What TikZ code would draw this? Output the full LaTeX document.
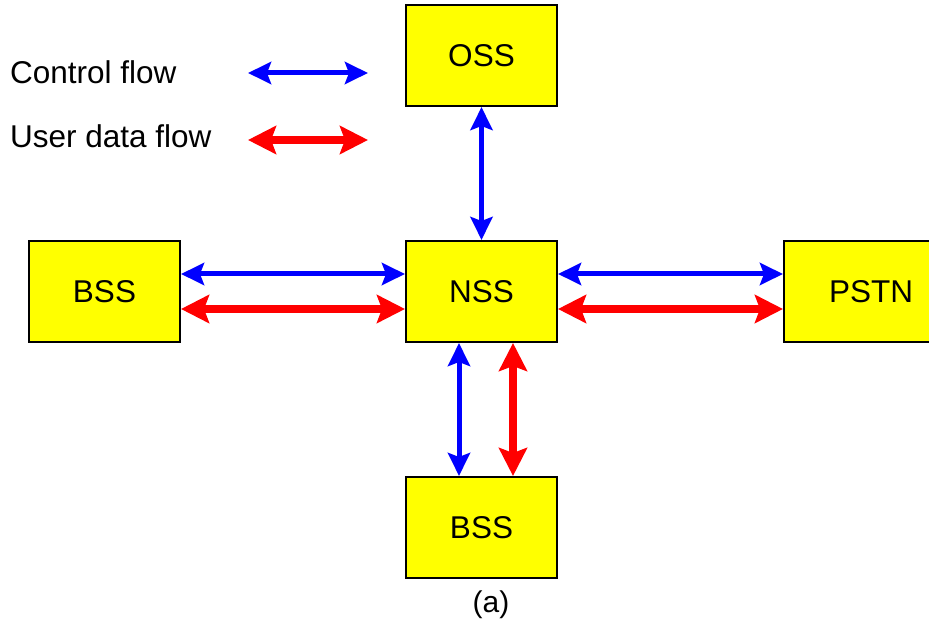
\documentclass[tikz,border=0pt]{standalone}
\usepackage{fontspec}
\setmainfont{Liberation Sans}
\usetikzlibrary{arrows.meta}
\definecolor{boxyellow}{RGB}{255,255,0}
\definecolor{ctrlblue}{RGB}{0,0,255}
\definecolor{datared}{RGB}{255,0,0}
\tikzset{
  unit/.style={draw=black,line width=2pt,fill=boxyellow,minimum width=151pt,minimum height=101pt,inner sep=0pt,font=\fontsize{31.5}{36}\selectfont},
  ctrlflow/.style={ctrlblue,line width=5pt,{Stealth[length=23pt,width=22pt,inset=4pt]}-{Stealth[length=23pt,width=22pt,inset=4pt]}},
  dataflow/.style={datared,line width=8pt,{Stealth[length=28pt,width=28pt,inset=5pt]}-{Stealth[length=28pt,width=28pt,inset=5pt]}},
  legend/.style={anchor=west,inner sep=0pt,font=\fontsize{31.5}{36}\selectfont}
}
\begin{document}
\begin{tikzpicture}[x=1pt,y=-1pt,line cap=butt,line join=miter]
\useasboundingbox (0,0) rectangle (929,628);

% ---- legend ----
\node[legend] (ctrltext) at (10,72) {Control flow};
\node[legend] (datatext) at (10,136) {User data flow};
\coordinate (ctrlA) at (248,73);
\coordinate (ctrlB) at (368,73);
\coordinate (dataA) at (248,140);
\coordinate (dataB) at (368,140);
\draw[ctrlflow] (ctrlA) -- (ctrlB);
\draw[dataflow] (dataA) -- (dataB);

% ---- subsystems ----
\node[unit] (oss) at (481.5,55.5) {OSS};
\node[unit] (nss) at (481.5,291.5) {NSS};
\node[unit] (bssleft) at (104.5,291.5) {BSS};
\node[unit] (bssdown) at (481.5,527.5) {BSS};
\node[unit,minimum width=174pt] (pstn) at (871,291.5) {PSTN};

% ---- OSS to NSS ----
\draw[ctrlflow] (oss.south) -- (nss.north);

% ---- left BSS to NSS ----
\draw[ctrlflow] ([yshift=17.5pt]bssleft.east) -- ([yshift=17.5pt]nss.west);
\draw[dataflow] ([yshift=-17.5pt]bssleft.east) -- ([yshift=-17.5pt]nss.west);

% ---- NSS to PSTN ----
\draw[ctrlflow] ([yshift=17.5pt]nss.east) -- ([yshift=17.5pt]pstn.west);
\draw[dataflow] ([yshift=-17.5pt]nss.east) -- ([yshift=-17.5pt]pstn.west);

% ---- NSS to lower BSS ----
\draw[ctrlflow] ([xshift=-22.5pt]nss.south) -- ([xshift=-22.5pt]bssdown.north);
\draw[dataflow] ([xshift=31.5pt]nss.south) -- ([xshift=31.5pt]bssdown.north);

\node[inner sep=0pt,font=\fontsize{30}{34}\selectfont] (caption) at (491,605) {(a)};
\end{tikzpicture}
\end{document}
